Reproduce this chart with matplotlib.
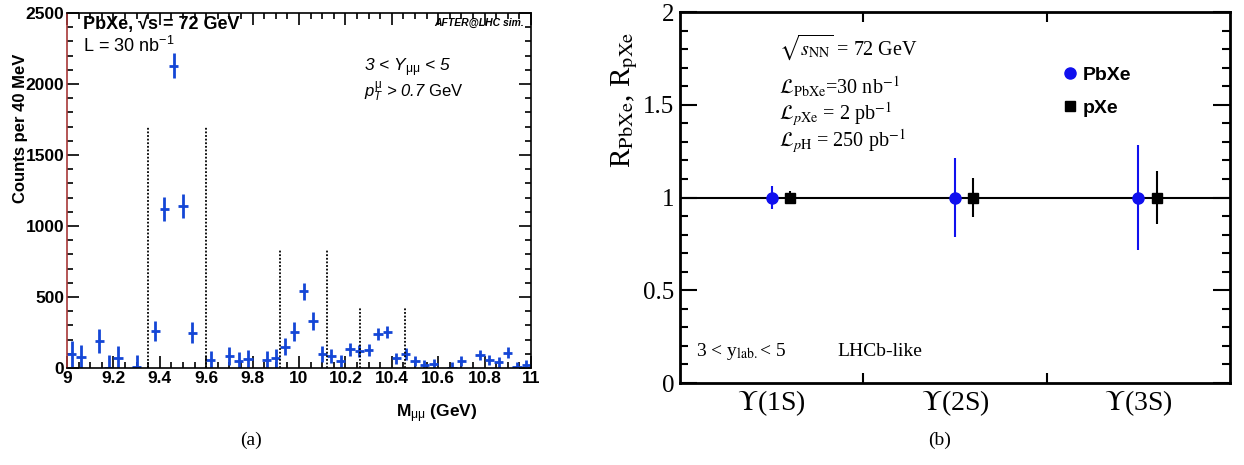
import matplotlib
matplotlib.use("Agg")
import matplotlib.pyplot as plt
from matplotlib.lines import Line2D
from matplotlib.ticker import MultipleLocator, FixedLocator, NullFormatter
import numpy as np

plt.rcParams['font.family'] = ['Liberation Sans', 'DejaVu Sans']
plt.rcParams['mathtext.fontset'] = 'custom'
plt.rcParams['mathtext.rm'] = 'Liberation Sans'
plt.rcParams['mathtext.it'] = 'Liberation Sans:italic'
plt.rcParams['mathtext.bf'] = 'Liberation Sans:bold'

# ---------------- data: panel (a) ----------------
mass = [9.02, 9.06, 9.14, 9.18, 9.22, 9.30, 9.38, 9.42, 9.46, 9.50, 9.54,
        9.62, 9.70, 9.74, 9.78, 9.86, 9.90, 9.94, 9.98, 10.02, 10.06, 10.10,
        10.14, 10.18, 10.22, 10.26, 10.30, 10.34, 10.38, 10.42, 10.46, 10.50,
        10.54, 10.58, 10.66, 10.70, 10.78, 10.82, 10.86, 10.90, 10.94, 10.98]
counts = [99, 75, 190, 3, 73, 7, 260, 1120, 2130, 1140, 249,
          56, 85, 49, 63, 56, 68, 150, 256, 542, 333, 100,
          86, 50, 131, 120, 127, 239, 256, 68, 99, 49,
          21, 28, 2, 49, 92, 56, 40, 108, 5, 21]
count_err = [90, 85, 85, 90, 85, 85, 70, 85, 85, 85, 75,
             65, 65, 65, 65, 65, 65, 60, 65, 60, 63, 55,
             50, 45, 45, 45, 45, 42, 42, 40, 40, 38,
             38, 38, 38, 38, 38, 38, 38, 38, 38, 38]
bin_half = 0.02
window_edges = [9.35, 9.60, 9.92, 10.12, 10.265, 10.455]
window_heights = [1700, 1700, 840, 840, 425, 425]

# ---------------- data: panel (b) ----------------
states = [r'$\Upsilon$(1S)', r'$\Upsilon$(2S)', r'$\Upsilon$(3S)']
r_pbxe = [1.0, 1.0, 1.0]
r_pbxe_err = [0.06, 0.215, 0.285]
r_pxe = [1.0, 1.0, 1.0]
r_pxe_err = [0.035, 0.105, 0.145]

blue_a = '#1446d6'
fig = plt.figure(figsize=(12.44, 4.65), dpi=100)

# ================= panel (a) =================
ax1 = fig.add_axes([67/1244, 97/465, 464/1244, 355/465])
ax1.errorbar(mass, counts, yerr=count_err, xerr=bin_half, fmt='none',
             ecolor=blue_a, elinewidth=2.0, capsize=0)
ax1.vlines(window_edges, 0, window_heights, colors='black',
           linestyles=(0, (1, 1)), linewidth=1.3)
ax1.set_xlim(9, 11)
ax1.set_ylim(0, 2500)
ax1.xaxis.set_major_locator(MultipleLocator(0.2))
ax1.xaxis.set_minor_locator(MultipleLocator(0.05))
ax1.yaxis.set_major_locator(MultipleLocator(500))
ax1.yaxis.set_minor_locator(MultipleLocator(100))
ax1.xaxis.set_major_formatter(plt.FuncFormatter(lambda v, p: f'{v:g}'))
ax1.tick_params(which='both', direction='in', top=True, right=True, width=1.2)
ax1.tick_params(which='major', length=8.5, labelsize=12.5, pad=2)
ax1.tick_params(which='minor', length=4.3)
for lab in ax1.get_xticklabels() + ax1.get_yticklabels():
    lab.set_fontweight('bold')
for s in ax1.spines.values():
    s.set_linewidth(1.2)
ax1.spines['left'].set_color('#a83838')
ax1.set_ylabel('Counts per 40 MeV', fontsize=12, fontweight='bold')
ax1.yaxis.set_label_coords(-0.084, 0.676)
ax1.set_xlabel(r'M$_{\mathrm{\mu\mu}}$ (GeV)', fontsize=12.5, fontweight='bold')
ax1.xaxis.set_label_coords(0.797, -0.096)
ax1.text(0.034, 0.968, 'PbXe, \u221As = 72 GeV', transform=ax1.transAxes,
         fontsize=13, fontweight='bold', va='center', ha='left')
ax1.text(0.034, 0.908, r'L = 30 nb$^{-1}$', transform=ax1.transAxes,
         fontsize=13, va='center', ha='left')
ax1.text(0.985, 0.985, 'AFTER@LHC sim.', transform=ax1.transAxes,
         fontsize=7.5, fontweight='bold', fontstyle='italic', va='top', ha='right')
ax1.text(0.64, 0.845, r'3 < Y$_{\mathrm{\mu\mu}}$ < 5', transform=ax1.transAxes,
         fontsize=12.5, fontstyle='italic', va='center', ha='left')
ax1.text(0.64, 0.777, r'$p^{\mathrm{\mu}}_{T}$ > 0.7 $\mathrm{GeV}$', transform=ax1.transAxes,
         fontsize=12, fontstyle='italic', va='center', ha='left')
fig.text(251/1244, 1 - 440/465, '(a)', fontsize=14, family='Liberation Serif',
         ha='center', va='center')

# ================= panel (b) =================
ax2 = fig.add_axes([680/1244, 82/465, 550/1244, 371/465])
xpos = np.arange(len(states))
ax2.axhline(1.0, color='black', linewidth=1.5, zorder=1)
ax2.errorbar(xpos, r_pbxe, yerr=r_pbxe_err, fmt='o', color='#1010ee',
             markersize=8, elinewidth=1.5, capsize=0, zorder=3)
ax2.errorbar(xpos + 0.1, r_pxe, yerr=r_pxe_err, fmt='s', color='black',
             markersize=7.5, elinewidth=1.5, capsize=0, zorder=3)
ax2.set_xlim(-0.5, 2.5)
ax2.set_ylim(0, 2)
ax2.xaxis.set_major_locator(FixedLocator([0.5, 1.5]))
ax2.xaxis.set_major_formatter(NullFormatter())
ax2.xaxis.set_minor_locator(FixedLocator(list(xpos)))
ax2.xaxis.set_minor_formatter(plt.FixedFormatter(states))
ax2.yaxis.set_major_locator(MultipleLocator(0.5))
ax2.yaxis.set_minor_locator(MultipleLocator(0.1))
ax2.yaxis.set_major_formatter(plt.FuncFormatter(lambda v, p: f'{v:g}'))
ax2.tick_params(axis='x', which='major', direction='in', top=True, bottom=True,
                length=7.5, width=1.5)
ax2.tick_params(axis='x', which='minor', length=0, labelsize=20, pad=4)
ax2.tick_params(axis='y', which='both', direction='in', left=True, right=True, width=1.5)
ax2.tick_params(axis='y', which='major', length=12, labelsize=18, pad=4)
ax2.tick_params(axis='y', which='minor', length=6)
for lab in ax2.get_xticklabels(which='minor') + ax2.get_yticklabels():
    lab.set_family('Liberation Serif')
    lab.set_math_fontfamily('stix')
for s in ax2.spines.values():
    s.set_linewidth(2.0)
ax2.set_ylabel(r'R$_{\mathrm{PbXe}}$, R$_{\mathrm{pXe}}$', fontsize=21,
               family='Liberation Serif', math_fontfamily='stix')
ax2.yaxis.set_label_coords(-0.073, 0.763)

serif = dict(family='Liberation Serif', math_fontfamily='stix', transform=ax2.transAxes,
             ha='left', va='center')
ax2.text(0.18, 0.906, r'$\sqrt{s_{\mathrm{NN}}}$ = 72 GeV', fontsize=14.5, **serif)
ax2.text(0.18, 0.80, r'$\mathcal{L}_{\mathrm{PbXe}}$=30 nb$^{\mathrm{-1}}$', fontsize=14.5, **serif)
ax2.text(0.18, 0.725, r'$\mathcal{L}_{p\mathrm{Xe}}$ = 2 pb$^{\mathrm{-1}}$', fontsize=14.5, **serif)
ax2.text(0.18, 0.652, r'$\mathcal{L}_{p\mathrm{H}}$ = 250 pb$^{\mathrm{-1}}$', fontsize=14.5, **serif)
ax2.text(0.03, 0.085, r'3 < y$_{\mathrm{lab.}}$< 5', fontsize=14, **serif)
ax2.text(0.287, 0.085, 'LHCb-like', fontsize=14, **serif)

handles = [Line2D([], [], marker='o', color='#1010ee', linestyle='none', markersize=8),
           Line2D([], [], marker='s', color='black', linestyle='none', markersize=7.5)]
leg = ax2.legend(handles, ['PbXe', 'pXe'], loc='upper left', bbox_to_anchor=(0.66, 0.9),
                 frameon=False, handletextpad=0.15, handlelength=1.0, labelspacing=0.78,
                 prop=dict(family='Liberation Sans', weight='bold', size=14))
fig.text(940/1244, 1 - 440/465, '(b)', fontsize=14, family='Liberation Serif',
         ha='center', va='center')

fig.savefig('out.png', dpi=100)
